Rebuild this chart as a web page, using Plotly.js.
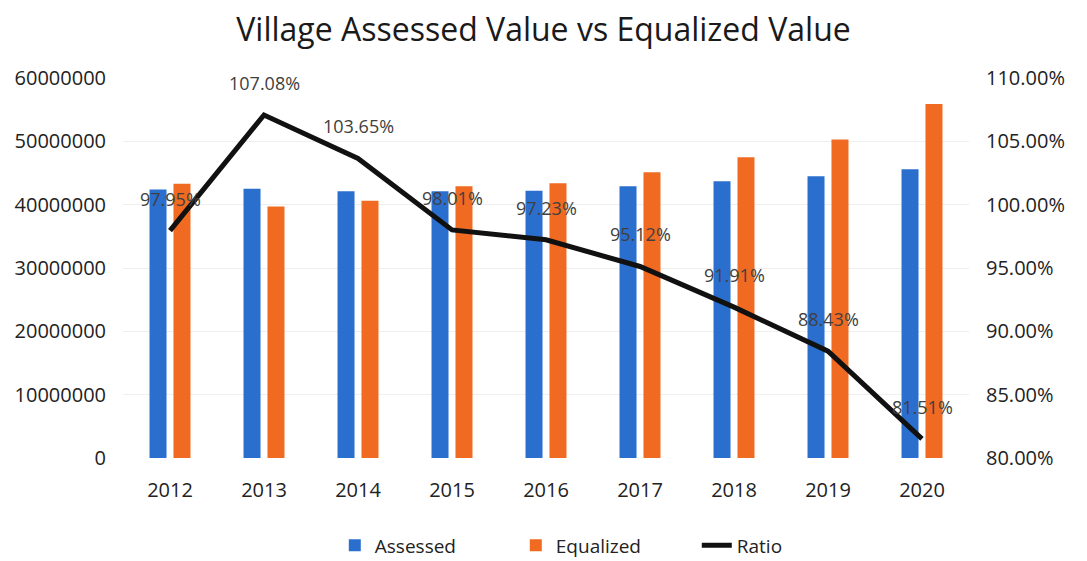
<!DOCTYPE html>
<html>
<head>
<meta charset="utf-8">
<script src="https://cdn.plot.ly/plotly-3.0.1.min.js"></script>
<style>html,body{margin:0;padding:0;background:#fff;}#chart{width:1087px;height:561px;}</style>
</head>
<body>
<div id="chart"></div>
<script>
const years = ['2012','2013','2014','2015','2016','2017','2018','2019','2020'];
const assessed = [42400000, 42500000, 42100000, 42100000, 42200000, 42900000, 43700000, 44500000, 45600000];
const equalized = [43300000, 39700000, 40600000, 42900000, 43400000, 45100000, 47500000, 50300000, 55900000];
const ratio = [0.9795, 1.0708, 1.0365, 0.9801, 0.9723, 0.9512, 0.9191, 0.8843, 0.8151];
const leftTicks = [0, 10000000, 20000000, 30000000, 40000000, 50000000, 60000000];
const rightTicks = [0.80, 0.85, 0.90, 0.95, 1.00, 1.05, 1.10];

const font = "'Open Sans', sans-serif";
const data = [
  {type:'bar', name:'Assessed', x:years, y:assessed, marker:{color:'#2B6FCE'}, yaxis:'y'},
  {type:'bar', name:'Equalized', x:years, y:equalized, marker:{color:'#F06A22'}, yaxis:'y'},
  {type:'scatter', mode:'lines', name:'Ratio', x:years, y:ratio, yaxis:'y2',
   line:{color:'#111111', width:5}}
];
const annotations = years.map((yr, i) => ({
  x: i, y: ratio[i], xref:'x', yref:'y2', yshift:32, showarrow:false,
  text:(ratio[i]*100).toFixed(2)+'%', xanchor:'center', yanchor:'middle',
  font:{family:font, size:18, color:'#404040'}
}));
const layout = {
  width:1087, height:561,
  margin:{l:123, r:118, t:78, b:103, autoexpand:false},
  paper_bgcolor:'#fff', plot_bgcolor:'#fff',
  font:{family:font, color:'#222'},
  title:{text:'Village Assessed Value vs Equalized Value', x:0.5, xanchor:'center', y:0.9465, yanchor:'middle', font:{family:font, size:32, color:'#1a1a1a'}},
  barmode:'group', bargap:0.49, bargroupgap:0.29,
  xaxis:{type:'category', range:[-0.5, years.length-0.5], autorange:false, automargin:false, tickfont:{size:20, color:'#222'}, showgrid:false, zeroline:false, showline:false, ticks:'', ticklabelstandoff:18},
  yaxis:{range:[0,60000000], autorange:false, automargin:false, tickvals:leftTicks, tickformat:'d', tickfont:{size:20, color:'#222'}, gridcolor:'#efefef', zeroline:false, showline:false, ticks:'', ticklabelstandoff:16},
  yaxis2:{overlaying:'y', side:'right', range:[0.80,1.10], autorange:false, automargin:false, tickvals:rightTicks, tickformat:'.2%', tickfont:{size:20, color:'#222'}, showgrid:false, zeroline:false, showline:false, ticks:'', ticklabelstandoff:16},
  legend:{orientation:'h', xref:'container', yref:'container', x:0.308, xanchor:'left', y:0.028, yanchor:'middle', font:{size:19, color:'#222'}, entrywidth:136, entrywidthmode:'pixels'},
  annotations: annotations,
  showlegend:true
};
Plotly.newPlot('chart', data, layout, {displayModeBar:false, staticPlot:true});
</script>
</body>
</html>
